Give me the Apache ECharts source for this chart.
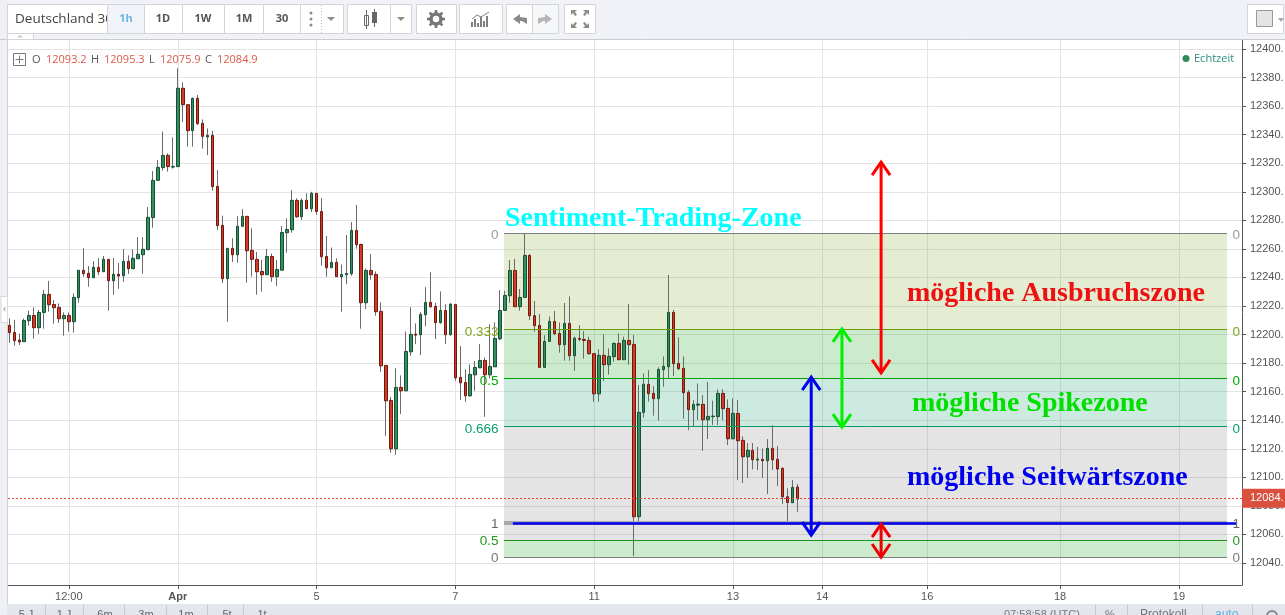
<!DOCTYPE html>
<html>
<head>
<meta charset="utf-8">
<style>html,body{margin:0;padding:0;background:#fff;overflow:hidden}#main{width:1285px;height:615px}</style>
<script src="https://cdn.jsdelivr.net/npm/echarts@6/dist/echarts.min.js"></script>
</head>
<body>
<div id="main"></div>
<script>
// candles
const opens = [
  12206.4,12201.5,12196.2,12195.0,12209.7,12213.4,12204.8,12215.5,12228.1,12221.1,
  12219.0,12211.1,12213.4,12209.0,12225.8,12245.0,12242.9,12239.8,12247.1,12244.0,
  12252.7,12237.7,12242.2,12241.2,12251.3,12246.1,12253.1,12255.9,12259.4,12281.9,
  12308.0,12316.9,12325.5,12317.3,12317.6,12372.5,12361.0,12342.8,12365.4,12347.9,
  12338.4,12339.5,12303.8,12276.5,12239.1,12260.4,12255.9,12275.8,12282.8,12259.0,
  12252.7,12244.2,12241.9,12254.7,12240.5,12245.1,12271.3,12273.4,12294.0,12282.5,
  12294.0,12288.1,12298.9,12286.2,12254.7,12246.8,12250.5,12240.5,12241.9,12242.6,
  12272.9,12263.1,12222.3,12244.9,12242.1,12216.2,12178.4,12153.9,12120.0,12163.0,
  12160.6,12187.9,12200.3,12199.9,12213.9,12222.5,12219.7,12208.3,12216.9,12199.9,
  12221.1,12170.0,12166.5,12157.1,12171.8,12176.7,12181.9,12171.8,12177.4,12197.0,
  12216.9,12227.2,12244.9,12219.5,12226.0,12255.4,12213.2,12206.4,12177.0,12195.2,
  12209.2,12200.8,12192.9,12207.8,12185.2,12197.3,12196.6,12195.9,12186.6,12158.5,
  12185.4,12178.9,12184.5,12193.8,12182.4,12195.9,12193.1,12072.4,12145.5,12165.1,
  12158.8,12155.1,12175.4,12177.5,12215.5,12179.8,12176.3,12159.5,12147.4,12150.6,
  12151.1,12140.4,12142.5,12142.5,12158.8,12148.3,12127.0,12144.8,12125.9,12114.4,
  12118.9,12112.1,12112.6,12111.6,12120.3,12112.6,12106.3,12086.4,12082.2,12093.2
];
const closes = [
  12201.3,12195.7,12194.8,12209.9,12213.4,12204.8,12215.5,12228.1,12220.9,12218.8,
  12211.1,12213.4,12209.0,12226.0,12245.0,12242.6,12239.8,12247.1,12244.0,12252.7,
  12237.7,12242.2,12241.0,12251.3,12246.1,12253.4,12256.2,12259.7,12282.1,12308.0,
  12317.1,12325.5,12317.6,12317.8,12372.5,12361.0,12342.8,12365.4,12347.7,12338.8,
  12339.5,12303.6,12276.3,12239.1,12260.4,12255.9,12275.8,12282.8,12258.7,12252.7,
  12244.0,12241.9,12254.7,12240.5,12245.6,12271.5,12273.6,12294.0,12282.5,12294.0,
  12288.1,12298.9,12286.2,12254.5,12246.8,12250.5,12240.5,12242.1,12242.8,12272.9,
  12262.9,12222.3,12244.9,12241.9,12216.0,12178.1,12153.6,12120.0,12163.0,12160.6,
  12188.2,12200.1,12199.6,12214.1,12222.5,12219.5,12208.3,12216.9,12199.9,12221.3,
  12169.7,12166.2,12157.1,12172.1,12177.0,12181.9,12171.8,12177.7,12197.3,12216.9,
  12227.4,12244.9,12219.5,12226.0,12255.4,12213.2,12206.2,12177.0,12195.2,12209.2,
  12200.6,12192.9,12207.8,12185.2,12197.5,12196.6,12195.9,12186.6,12158.5,12185.4,
  12178.9,12184.7,12193.8,12182.4,12195.9,12192.9,12072.4,12145.5,12165.1,12158.6,
  12155.1,12175.6,12177.7,12215.5,12179.6,12176.1,12159.3,12147.4,12151.1,12151.3,
  12140.4,12142.7,12142.9,12158.8,12148.1,12127.0,12144.8,12125.6,12114.4,12118.9,
  12112.3,12112.8,12111.6,12120.3,12112.3,12105.8,12086.4,12082.4,12093.0,12084.9
];
const lows = [
  12194.3,12192.2,12192.7,12195.0,12206.2,12197.1,12200.4,12204.1,12216.0,12207.6,
  12208.1,12199.2,12202.0,12201.3,12222.3,12240.5,12233.5,12239.8,12241.7,12244.0,
  12216.7,12227.9,12232.1,12237.0,12242.4,12246.1,12253.1,12242.6,12259.4,12274.8,
  12308.0,12314.8,12314.1,12316.2,12317.6,12348.9,12331.6,12331.6,12346.8,12330.2,
  12325.8,12300.8,12273.2,12236.1,12209.0,12250.8,12250.3,12275.8,12236.3,12240.5,
  12227.9,12230.0,12241.9,12237.0,12233.9,12244.7,12257.3,12271.3,12281.8,12280.2,
  12288.1,12285.8,12283.9,12248.2,12240.5,12246.8,12240.5,12216.0,12235.3,12241.2,
  12260.1,12204.1,12217.8,12238.4,12213.2,12173.9,12129.1,12117.2,12115.8,12144.3,
  12160.6,12185.1,12193.3,12185.6,12205.7,12218.8,12196.8,12207.6,12193.3,12199.2,
  12167.6,12154.3,12152.9,12156.4,12160.6,12176.7,12142.4,12169.3,12177.4,12196.1,
  12216.9,12222.3,12219.5,12216.7,12226.0,12210.1,12202.0,12177.0,12177.0,12195.2,
  12199.6,12187.3,12181.7,12181.7,12174.7,12195.4,12183.1,12185.9,12152.9,12152.9,
  12167.4,12171.9,12181.0,12182.1,12182.1,12178.9,12044.9,12067.0,12141.8,12153.0,
  12143.2,12139.7,12163.5,12169.1,12170.9,12175.1,12141.1,12133.1,12135.9,12140.1,
  12118.6,12126.8,12136.6,12136.6,12140.1,12122.6,12126.8,12098.1,12096.0,12099.5,
  12105.6,12105.1,12099.5,12088.3,12105.1,12093.9,12081.3,12067.0,12082.2,12075.9
];
const highs = [
  12211.3,12210.2,12200.8,12211.3,12216.7,12219.0,12217.2,12231.2,12237.5,12224.2,
  12221.8,12215.5,12215.5,12228.8,12245.2,12260.4,12248.0,12251.5,12253.6,12255.0,
  12252.7,12253.6,12250.1,12259.9,12255.5,12259.7,12268.3,12268.3,12289.3,12314.5,
  12322.2,12342.1,12326.9,12338.1,12386.5,12376.7,12361.0,12366.1,12367.8,12350.7,
  12344.4,12342.6,12315.2,12283.3,12260.4,12267.4,12283.0,12287.9,12283.0,12274.4,
  12257.8,12252.2,12259.9,12256.8,12252.2,12276.0,12281.3,12301.2,12295.4,12295.4,
  12298.9,12300.0,12299.1,12295.6,12269.0,12261.0,12253.3,12249.1,12269.7,12278.8,
  12290.7,12263.6,12246.3,12256.4,12244.2,12222.5,12178.4,12156.4,12176.3,12171.4,
  12202.2,12219.2,12207.8,12215.7,12233.2,12243.7,12222.3,12230.2,12221.1,12222.0,
  12221.1,12191.9,12175.6,12179.1,12181.4,12193.3,12184.0,12207.3,12208.5,12231.1,
  12230.7,12252.2,12252.9,12231.9,12270.6,12256.4,12223.5,12214.4,12199.6,12212.7,
  12216.5,12208.5,12222.1,12226.7,12198.5,12206.6,12202.4,12198.5,12186.8,12189.6,
  12200.1,12190.3,12194.5,12200.8,12198.5,12221.4,12199.7,12164.6,12172.8,12175.1,
  12163.9,12177.0,12184.7,12241.7,12217.2,12198.0,12184.7,12161.1,12154.1,12165.8,
  12157.6,12166.7,12153.7,12161.6,12161.8,12154.6,12155.3,12154.1,12128.7,12124.0,
  12124.0,12121.4,12120.3,12126.8,12136.6,12121.9,12107.0,12092.3,12098.1,12095.3
];

// axes
const xTickAt = [12, 34, 62, 90, 118, 146, 164, 185.2, 212, 236];
const xTickLabels = ['12:00', 'Apr', '5', '7', '11', '13', '14', '16', '18', '19'];
const yTicks = [12040,12060,12080,12100,12120,12140,12160,12180,12200,12220,12240,12260,12280,12300,12320,12340,12360,12380,12400];
const lastPrice = 12085.4;

// fibonacci zones: price levels and the bands between them
const zoneFrom = 99.8, zoneTo = 245.7;
const fibPrices = [12271, 12203.5, 12169.6, 12136, 12068, 12056, 12044];
const fibNames = ['0', '0.333', '0.5', '0.666', '1', '0.5', '0'];
const fibRight = ['0', '0', '0', '0', '1', '0', '0'];
const fibLineColors = ['#7d7d7d', '#6f9a0a', '#00a000', '#0a9a6a', '#a8a8a8', '#1f8f1f', '#7d7d7d'];
const fibLineWidths = [1, 1, 1, 1, 4, 1, 1];
const fibTextColors = ['#999999', '#7fa51a', '#00aa00', '#0a9e6e', '#666666', '#1f9a1f', '#777777'];
const bandColors = ['rgba(118,165,30,.2)', 'rgba(0,150,0,.2)', 'rgba(0,150,100,.2)', 'rgba(120,120,120,.2)', 'rgba(120,120,120,.2)', 'rgba(0,150,0,.2)'];

// drawn arrows: x position, price from, price to
const arrowX = [175.9, 168.0, 161.8, 175.9];
const arrowFrom = [12320.8, 12203.9, 12170.2, 12067.3];
const arrowTo = [12173.1, 12135.2, 12059.6, 12044.2];
const arrowColors = ['#ff0000', '#00ee00', '#0000ee', '#ee0000'];

const candleIdx = opens.map((_, i) => i);
const wickData = candleIdx.map(i => [i, opens[i], closes[i], lows[i], highs[i]]);
const bodyData = candleIdx.map(i => [i, opens[i], closes[i], Math.min(opens[i], closes[i]), Math.max(opens[i], closes[i])]);

const chartDom = document.getElementById('main');
const chart = echarts.init(chartDom);

// toolbar and other chrome
const g = [];
const LINE = '#d3d5d9', GREY = '#8c8c8c', UI = 'Liberation Sans';
function rect(x, y, w, h, fill, stroke) {
  g.push({ type: 'rect', shape: { x, y, width: w, height: h }, style: { fill: fill, stroke: stroke || null, lineWidth: 1 } });
}
function txt(x, y, text, fill, font, align) {
  g.push({ type: 'text', style: { x, y, text, fill, font, textAlign: align || 'left', textVerticalAlign: 'middle' } });
}
function poly(points, fill) {
  g.push({ type: 'polygon', shape: { points }, style: { fill } });
}
function line(x1, y1, x2, y2, stroke, w, dash) {
  g.push({ type: 'line', shape: { x1, y1, x2, y2 }, style: { stroke, lineWidth: w || 1, lineDash: dash || null } });
}
function caret(x, y) { poly([[x - 4, y], [x + 4, y], [x, y + 4]], GREY); }

rect(0, 0, 1285, 39.5, '#f0f2f7');
rect(0, 0, 7, 615, '#eef0f4');
line(7.5, 40, 7.5, 604, '#cfd1d5');
line(0, 39.5, 1285, 39.5, '#c9cbcf');
rect(7.5, 4.5, 336, 29, '#fff', LINE);
txt(15, 19, 'Deutschland 30', '#444', '13.5px "Open Sans"');
rect(107, 5, 37, 28, '#f0f3f7');
const tabEdges = [144, 182, 224, 263, 300];
tabEdges.forEach(x => line(x + .5, 5, x + .5, 33, LINE));
line(107.5, 5, 107.5, 33, LINE);
[['1h', 126, '#6bb6e6'], ['1D', 163, '#555'], ['1W', 203, '#555'], ['1M', 244, '#555'], ['30', 282, '#555']].forEach(t => txt(t[1], 19, t[0], t[2], 'bold 11px "Open Sans"', 'center'));
[13, 19, 25].forEach(y => g.push({ type: 'circle', shape: { cx: 311, cy: y, r: 1.5 }, style: { fill: GREY } }));
line(321.5, 5, 321.5, 33, '#bbb', 1, [1, 2]);
caret(331, 17);
rect(7.5, 33.5, 26, 6, '#fff', LINE);
poly([[17, 37.5], [23, 37.5], [20, 35]], '#c8c8c8');

rect(347.5, 4.5, 64, 29, '#fff', LINE);
line(390.5, 5, 390.5, 33, LINE);
rect(364.5, 15.5, 4, 10, '#fff', '#666'); line(366.5, 10, 366.5, 29, '#666');
rect(372, 12, 5, 11, '#666'); line(374.5, 9, 374.5, 27, '#666');
caret(401, 17);

rect(416.5, 4.5, 40, 29, '#fff', LINE);
g.push({ type: 'circle', shape: { cx: 436, cy: 19, r: 5 }, style: { fill: 'none', stroke: '#777', lineWidth: 3.5 } });
for (let a = 0; a < 8; a++) {
  const c = Math.cos(a * Math.PI / 4), s = Math.sin(a * Math.PI / 4);
  line(436 + 6 * c, 19 + 6 * s, 436 + 9 * c, 19 + 9 * s, '#777', 2.6);
}

rect(459.5, 4.5, 43, 29, '#fff', LINE);
[[472, 22], [475, 19], [478, 23], [481, 17], [484, 21], [487, 16]].forEach(b => line(b[0], b[1], b[0], 27, '#808080', 2));
g.push({ type: 'polyline', shape: { points: [[472, 19], [477, 15], [481, 17], [489, 12]] }, style: { fill: 'none', stroke: '#808080', lineWidth: 1 } });

rect(506.5, 4.5, 52, 29, '#fff', LINE);
rect(533, 5, 25, 28, '#f6f7f9');
line(532.5, 5, 532.5, 33, LINE);
poly([[513, 19], [520, 14], [520, 17], [527, 18], [527, 24], [522, 21], [520, 21], [520, 24]], '#8a8a8a');
poly([[552, 19], [545, 14], [545, 17], [538, 18], [538, 24], [543, 21], [545, 21], [545, 24]], '#b5b5b5');

rect(564.5, 4.5, 31, 29, '#fff', LINE);
poly([[571, 10], [577, 10], [575, 12], [577, 15], [575, 16], [573, 13], [571, 15]], GREY);
poly([[589, 10], [583, 10], [585, 12], [583, 15], [585, 16], [587, 13], [589, 15]], GREY);
poly([[571, 28], [577, 28], [575, 26], [577, 23], [575, 22], [573, 25], [571, 23]], GREY);
poly([[589, 28], [583, 28], [585, 26], [583, 23], [585, 22], [587, 25], [589, 23]], GREY);

rect(1247.5, 4.5, 36, 29, '#fff', LINE);
rect(1256.5, 10.5, 16, 16, '#e4e4e4', '#999');
poly([[1278, 18], [1284, 18], [1281, 22]], '#aaa');

// left handle
rect(1, 296.5, 6.5, 26, '#fff', '#d8d8d8');
poly([[2.5, 309], [5.5, 306], [5.5, 312]], '#c4c4c4');

// OHLC row
rect(13.5, 53.5, 12, 12, '#fff', '#777');
line(15.5, 59.5, 23.5, 59.5, '#777');
line(19.5, 55.5, 19.5, 63.5, '#777');
[['O', 32, '#555'], ['12093.2', 46, '#db5a47'], ['H', 91, '#555'], ['12095.3', 104, '#db5a47'], ['L', 149, '#555'], ['12075.9', 160, '#db5a47'], ['C', 205, '#555'], ['12084.9', 217, '#db5a47']]
  .forEach(t => txt(t[1], 59.5, t[0], t[2], '11px "Open Sans"'));
g.push({ type: 'circle', shape: { cx: 1186, cy: 58.5, r: 3.5 }, style: { fill: '#2e8b57' } });
txt(1194, 58.5, 'Echtzeit', '#2f8f80', '11px "Open Sans"');

// zone captions
const serif = 'bold 28px "Liberation Serif"';
txt(505, 219, 'Sentiment-Trading-Zone', '#00ffff', serif);
txt(907, 294, 'mögliche Ausbruchszone', '#ee1111', serif);
txt(912, 404, 'mögliche Spikezone', '#00e000', serif);
txt(907, 478, 'mögliche Seitwärtszone', '#0000ee', serif);

// bottom bar, cut off by the window
rect(7, 604, 1278, 11, '#e3e6ec');
[45, 83, 124, 166, 207, 243, 1095, 1127, 1202, 1252].forEach(x => line(x + .5, 605, x + .5, 615, '#c5c8ce'));
[['5 J', 26], ['1 J', 64], ['6m', 105], ['3m', 146], ['1m', 186], ['5t', 227], ['1t', 262]].forEach(t => txt(t[1], 614.5, t[0], '#666', '11px "Liberation Sans"', 'center'));
txt(1004, 614.5, '07:58:58 (UTC)', '#777', '11px "Liberation Sans"');
txt(1110, 614.5, '%', '#777', '11px "Liberation Sans"', 'center');
txt(1140, 614.5, 'Protokoll', '#777', '12px "Liberation Sans"');
txt(1215, 614.5, 'auto', '#5ab0e0', '12px "Liberation Sans"');
g.push({ type: 'circle', shape: { cx: 1272, cy: 616, r: 5 }, style: { fill: 'none', stroke: '#888', lineWidth: 2 } });
g.forEach(e => { e.silent = true; e.z = 100; });

const fibLines = fibPrices.map((p, i) => [
  { xAxis: zoneFrom, yAxis: p, lineStyle: { color: fibLineColors[i], width: fibLineWidths[i], type: 'solid' } },
  { xAxis: zoneTo, yAxis: p }
]);
const bands = bandColors.map((c, i) => [
  { xAxis: zoneFrom, yAxis: fibPrices[i], itemStyle: { color: c } },
  { xAxis: zoneTo, yAxis: fibPrices[i + 1] }
]);
const levelLabel = (x, p, name, i, align, dy) => ({
  coord: [x, p], symbolSize: 0,
  label: { show: true, formatter: name, position: 'inside', color: fibTextColors[i], fontSize: 13.5, fontFamily: UI, align: align, verticalAlign: 'middle', offset: [0, dy] }
});
const labelPoints = [];
fibPrices.forEach((p, i) => {
  labelPoints.push(levelLabel(98.7, p, fibNames[i], i, 'right', i === 0 ? 2 : (i < 4 ? 3 : 1)));
  labelPoints.push(levelLabel(246.8, p, fibRight[i], i, 'left', i === 0 ? 2 : (i < 4 ? 3 : 1)));
});

function renderArrow(params, api) {
  const x = api.value(0);
  const a = api.coord([x, api.value(1)]);
  const b = api.coord([x, api.value(2)]);
  const color = arrowColors[params.dataIndex];
  const wing = 9, rise = 13;
  const style = { stroke: color, lineWidth: 3, fill: 'none' };
  return {
    type: 'group',
    children: [
      { type: 'line', shape: { x1: a[0], y1: a[1], x2: b[0], y2: b[1] }, style },
      { type: 'polyline', shape: { points: [[a[0] - wing, a[1] + rise], a, [a[0] + wing, a[1] + rise]] }, style },
      { type: 'polyline', shape: { points: [[b[0] - wing, b[1] - rise], b, [b[0] + wing, b[1] - rise]] }, style }
    ]
  };
}

const option = {
  animation: false,
  backgroundColor: '#fff',
  textStyle: { fontFamily: UI },
  grid: { left: 8, right: 43, top: 40, bottom: 30, outerBoundsMode: 'none' },
  xAxis: {
    type: 'value',
    min: -0.27,
    max: 248.72,
    axisLine: { lineStyle: { color: '#555', width: 1 }, onZero: false },
    axisTick: { length: 4, lineStyle: { color: '#555' }, customValues: xTickAt },
    splitLine: { show: true, lineStyle: { color: '#e4e4e4', width: 1 } },
    axisLabel: {
      customValues: xTickAt,
      color: '#555', fontSize: 11, margin: 6,
      formatter: v => {
        const s = xTickLabels[xTickAt.indexOf(v)];
        return s === 'Apr' ? '{b|Apr}' : s;
      },
      rich: { b: { fontWeight: 'bold', fontSize: 11, color: '#555' } }
    }
  },
  yAxis: {
    type: 'value',
    position: 'right',
    min: 12024.6,
    max: 12406.3,
    axisLine: { show: true, onZero: false, lineStyle: { color: '#555', width: 1 } },
    axisTick: { show: true, length: 4, lineStyle: { color: '#555' }, customValues: yTicks },
    splitLine: { show: true, lineStyle: { color: '#e4e4e4', width: 1 } },
    axisLabel: {
      customValues: yTicks,
      color: '#555', fontSize: 11, margin: 8, padding: [2, 0, 0, 0],
      formatter: v => v + '.'
    }
  },
  graphic: { elements: g },
  series: [
    {
      name: 'Zonen',
      type: 'line',
      data: [],
      z: 1,
      silent: true,
      markArea: { silent: true, data: bands },
      markLine: { silent: true, symbol: 'none', animation: false, label: { show: false }, data: fibLines },
      markPoint: { silent: true, animation: false, symbol: 'circle', data: labelPoints }
    },
    {
      name: 'Docht',
      type: 'candlestick',
      data: wickData,
      encode: { x: 0, y: [1, 2, 3, 4] },
      barWidth: 1,
      z: 3,
      itemStyle: { color: 'transparent', color0: 'transparent', borderColor: '#6b6b6b', borderColor0: '#6b6b6b', borderColorDoji: '#6b6b6b', borderWidth: 1 }
    },
    {
      name: 'Deutschland 30',
      type: 'candlestick',
      data: bodyData,
      encode: { x: 0, y: [1, 2, 3, 4] },
      barWidth: 3,
      z: 4,
      itemStyle: { color: '#338f62', color0: '#d63a24', borderColor: '#174f33', borderColor0: '#6f1a10', borderColorDoji: '#6f1a10', borderWidth: 1 }
    },
    {
      name: 'Kurs',
      type: 'line',
      data: [],
      z: 5,
      markLine: {
        silent: true, symbol: 'none', animation: false,
        lineStyle: { color: '#e8442e', width: 1, type: [2, 2] },
        label: { position: 'end', formatter: '12084.', color: '#fff', backgroundColor: '#d9503f', fontSize: 11, padding: [4, 4, 4, 8], distance: 0 },
        data: [{ yAxis: lastPrice }]
      }
    },
    {
      name: 'Linie',
      type: 'line',
      data: [],
      z: 6,
      markLine: {
        silent: true, symbol: 'none', animation: false, label: { show: false },
        data: [[
          { xAxis: 101.6, yAxis: 12068, lineStyle: { color: '#0000ee', width: 2.5, type: 'solid' } },
          { xAxis: 247.7, yAxis: 12068 }
        ]]
      }
    },
    {
      name: 'Pfeile',
      type: 'custom',
      z: 7,
      silent: true,
      renderItem: renderArrow,
      encode: { x: 0, y: [1, 2] },
      data: arrowX.map((x, i) => [x, arrowFrom[i], arrowTo[i]])
    }
  ]
};

chart.setOption(option);
</script>
</body>
</html>
